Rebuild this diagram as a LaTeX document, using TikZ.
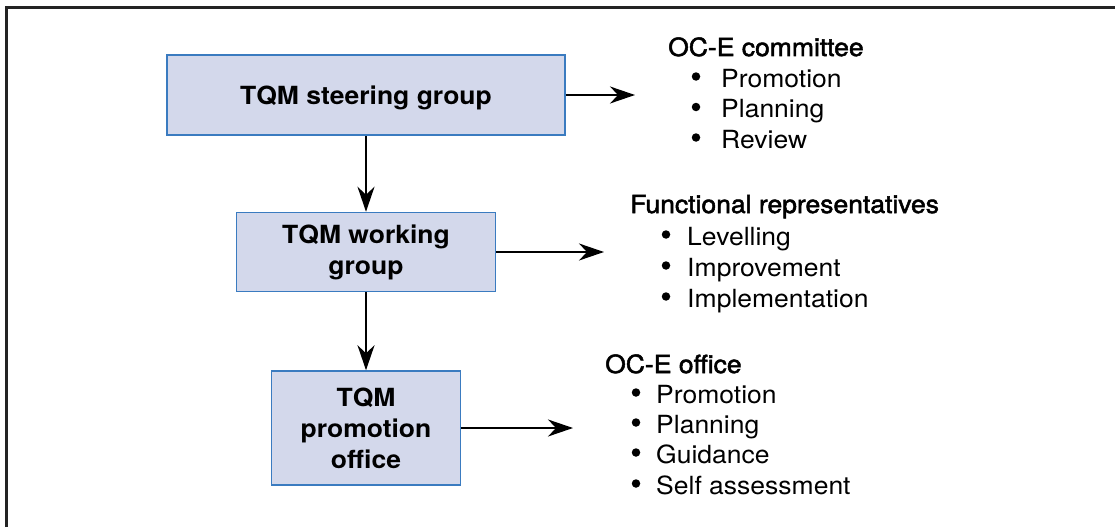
\documentclass[tikz,border=0pt]{standalone}
\usepackage{fontspec}
\setmainfont{TeX Gyre Heros}[FakeStretch=1.06]
\newfontfamily\hdfont{TeX Gyre Heros}[FakeStretch=1.06,FakeBold=2]
\usetikzlibrary{arrows.meta}
\definecolor{boxfill}{RGB}{211,216,235}
\definecolor{boxline}{RGB}{58,123,192}
\definecolor{framec}{RGB}{35,35,35}
\begin{document}
\begin{tikzpicture}[x=1pt,y=-1pt,
  box/.style={draw=boxline, line width=1.5pt, fill=boxfill, align=center,
    font=\fontsize{25}{31}\selectfont\bfseries, inner sep=0pt},
  conn/.style={line width=2pt, -{Stealth[length=25pt,width=17pt,inset=8pt]}},
  head/.style={anchor=base west, inner sep=0pt, font=\fontsize{25}{31}\selectfont\hdfont},
  item/.style={anchor=base west, inner sep=0pt, font=\fontsize{25}{31}\selectfont},
  bul/.style={circle, fill=black, minimum size=8.5pt, inner sep=0pt, yshift=10.5pt}]
\useasboundingbox (0,0) rectangle (1115,527);
\draw[framec, line width=2.5pt] (6.5,527) -- (6.5,7.5) -- (1115,7.5);

\node[box, minimum width=398pt, minimum height=80pt, text depth=0pt] (sg) at (366,95) {TQM steering group};
\node[box, minimum width=259pt, minimum height=79pt] (wg) at (366,252) {TQM working\\group};
\node[box, minimum width=189pt, minimum height=114pt] (po) at (366,428) {TQM\\promotion\\office};

\coordinate (e1) at (635,95);
\coordinate (e2) at (604,252);
\coordinate (e3) at (573,428);
\draw[conn] (sg.east) -- (e1);
\draw[conn] (wg.east) -- (e2);
\draw[conn] (po.east) -- (e3);
\draw[conn] (sg.south) -- (wg.north);
\draw[conn] (wg.south) -- (po.north);

% list 1
\node[head] (h1) at (668,56) {OC-E committee};
\node[bul] (b11) at (696,87) {};
\node[item] (i11) at (721,87) {Promotion};
\node[bul] (b12) at (696,117.5) {};
\node[item] (i12) at (721,117.5) {Planning};
\node[bul] (b13) at (696,148) {};
\node[item] (i13) at (721,148) {Review};
% list 2
\node[head] (h2) at (630,213) {Functional representatives};
\node[bul] (b21) at (666,245) {};
\node[item] (i21) at (687,245) {Levelling};
\node[bul] (b22) at (666,276) {};
\node[item] (i22) at (687,276) {Improvement};
\node[bul] (b23) at (666,307) {};
\node[item] (i23) at (687,307) {Implementation};
% list 3
\node[head] (h3) at (605,373) {OC-E office};
\node[bul] (b31) at (636,403) {};
\node[item] (i31) at (656,403) {Promotion};
\node[bul] (b32) at (636,433) {};
\node[item] (i32) at (656,433) {Planning};
\node[bul] (b33) at (636,463) {};
\node[item] (i33) at (656,463) {Guidance};
\node[bul] (b34) at (636,494) {};
\node[item] (i34) at (656,494) {Self assessment};
\end{tikzpicture}
\end{document}
